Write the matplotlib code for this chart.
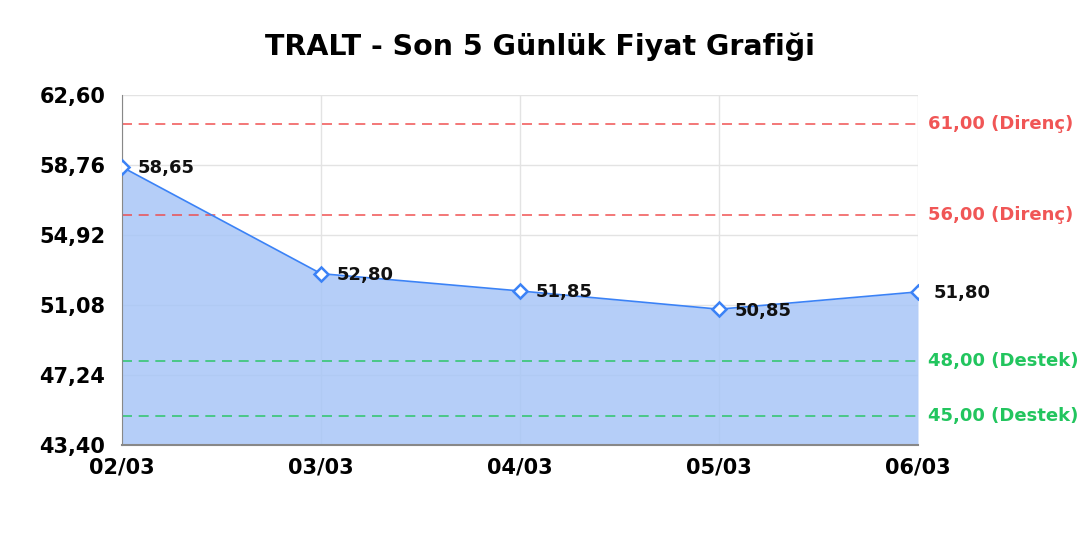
import matplotlib
matplotlib.use("Agg")
import matplotlib.pyplot as plt
import numpy as np

plt.rcParams["font.family"] = ["DejaVu Sans"]

# Veriler
dates = ["02/03", "03/03", "04/03", "05/03", "06/03"]
prices = [58.65, 52.80, 51.85, 50.85, 51.80]
resistance = [61.00, 56.00]
support = [48.00, 45.00]
y_min, y_max = 43.40, 62.60

line_color = "#3b82f6"
fill_color = "#a8c6f7"
red = "#ef4444"
green = "#22c55e"


def fmt(v):
    return f"{v:.2f}".replace(".", ",")


fig = plt.figure(figsize=(10.8, 5.4), dpi=100)
ax = fig.add_axes([0.113, 0.176, 0.737, 0.648])

x = np.arange(len(dates))
ax.fill_between(x, prices, y_min, color=fill_color, alpha=0.85, zorder=2, linewidth=0)
ax.plot(x, prices, color=line_color, linewidth=1.2, zorder=3)
ax.plot(x, prices, linestyle="none", marker="D", markersize=7,
        markerfacecolor="white", markeredgecolor=line_color, markeredgewidth=1.8, zorder=4)

for xi, p in zip(x, prices):
    ax.annotate(fmt(p), (xi, p), xytext=(11, -1), textcoords="offset points",
                ha="left", va="center", fontsize=13, fontweight="bold", color="#111111", zorder=5)

for r in resistance:
    ax.axhline(r, color=red, linestyle=(0, (6, 4)), linewidth=1.2, alpha=0.85, zorder=2.5)
    ax.text(1.013, r, f"{fmt(r)} (Direnç)", transform=ax.get_yaxis_transform(),
            ha="left", va="center", fontsize=13, fontweight="bold", color=red, alpha=0.9)
for s in support:
    ax.axhline(s, color=green, linestyle=(0, (6, 4)), linewidth=1.2, alpha=0.85, zorder=2.5)
    ax.text(1.013, s, f"{fmt(s)} (Destek)", transform=ax.get_yaxis_transform(),
            ha="left", va="center", fontsize=13, fontweight="bold", color=green)

ax.set_xlim(0, len(dates) - 1)
ax.set_ylim(y_min, y_max)
yt = np.linspace(y_min, y_max, 6)
ax.set_yticks(yt)
ax.set_yticklabels([fmt(v) for v in yt])
ax.set_xticks(x)
ax.set_xticklabels(dates)
for lbl in ax.get_xticklabels() + ax.get_yticklabels():
    lbl.set_fontweight("bold")
    lbl.set_fontsize(15)
ax.tick_params(axis="y", length=0, pad=12)
ax.tick_params(axis="x", length=0, pad=9)

ax.grid(True, color="#e3e3e3", linewidth=1, zorder=0)
ax.set_axisbelow(True)
ax.spines["top"].set_visible(False)
ax.spines["right"].set_visible(False)
ax.spines["left"].set_color("#888888")
ax.spines["bottom"].set_color("#888888")
ax.spines["bottom"].set_linewidth(1.5)

fig.suptitle("TRALT - Son 5 Günlük Fiyat Grafiği", fontsize=20.5, fontweight="bold", y=0.94)

plt.savefig("out.png", dpi=100)
plt.close()
